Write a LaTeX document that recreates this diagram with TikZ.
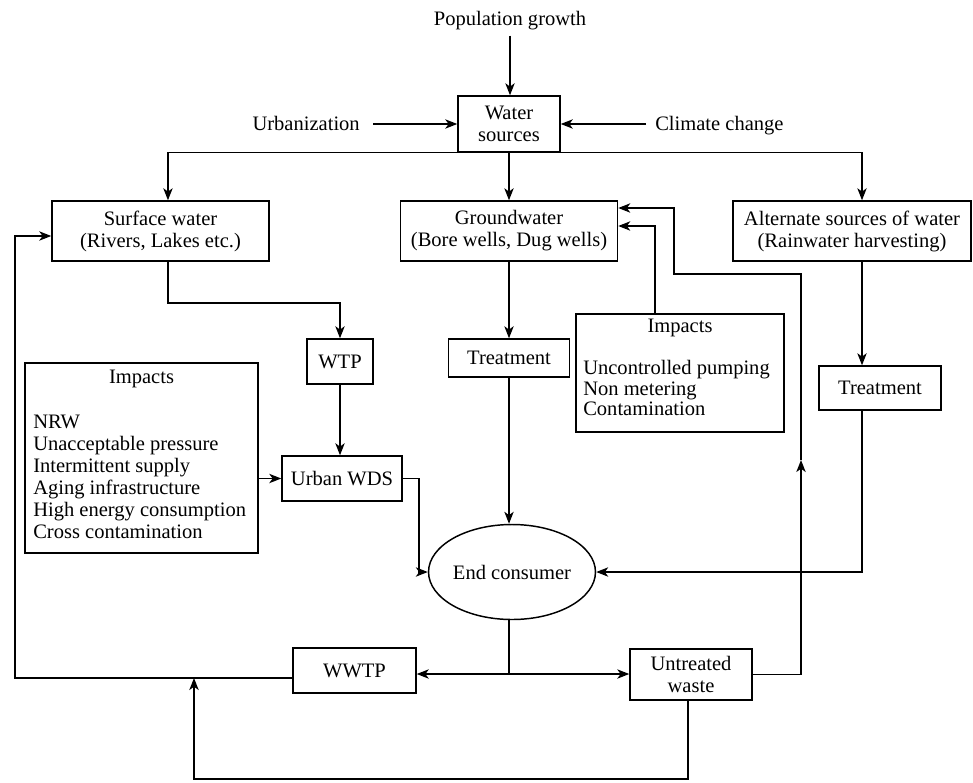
\documentclass[tikz,border=0pt]{standalone}
\usepackage{fontspec}
\setmainfont{Liberation Serif}
\usetikzlibrary{arrows.meta,shapes.geometric}
\begin{document}
\begin{tikzpicture}[x=0.75pt,y=-0.75pt,
  every node/.style={font=\fontsize{15.4}{16.5}\selectfont},
  box/.style={draw,line width=1.1pt,inner sep=0pt,align=center},
  lbl/.style={inner sep=0pt},
  ln/.style={line width=1.1pt},
  arr/.style={line width=1.1pt,-{Stealth[length=9pt,width=7pt,inset=2.5pt]}},
]
\useasboundingbox (0,0) rectangle (973,782);

% drivers acting on the water sources
\node[lbl,anchor=base] (pop) at (510,25) {Population growth};
\node[lbl,anchor=base east] (urb) at (360,130) {Urbanization};
\node[lbl,anchor=base west] (clim) at (655,130) {Climate change};
\node[box,minimum width=76.5pt,minimum height=42pt] (ws) at (509,124) {Water\\sources};

% source boxes
\node[box,minimum width=162.75pt,minimum height=45pt] (sw) at (160.5,231) {Surface water\\(Rivers, Lakes etc.)};
\node[box,minimum width=162.75pt,minimum height=45pt] (gw) at (509,231) {Groundwater\\(Bore wells, Dug wells)};
\node[box,minimum width=178.5pt,minimum height=45pt] (alt) at (852,231) {Alternate sources of water\\(Rainwater harvesting)};

% treatment and distribution
\node[box,minimum width=49.5pt,minimum height=33.75pt] (wtp) at (340,361.5) {WTP};
\node[box,minimum width=90.75pt,minimum height=28.5pt] (treat1) at (509,358) {Treatment};
\node[box,minimum width=91.5pt,minimum height=33pt] (treat2) at (880,388) {Treatment};
\node[box,minimum width=90pt,minimum height=33.75pt] (uwds) at (342,478.5) {Urban WDS};
\node[draw,line width=1.1pt,ellipse,inner sep=0pt,minimum width=114pt,minimum height=71.25pt] (ec) at (512,572) {End consumer};
\node[box,minimum width=92.25pt,minimum height=33.75pt] (wwtp) at (354.5,670.5) {WWTP};
\node[box,minimum width=91.5pt,minimum height=38.25pt] (uw) at (691,674.5) {Untreated\\waste};

% impact lists
\node[box,minimum width=174.75pt,minimum height=142.5pt] (imp1) at (141.5,458) {};
\node[lbl,anchor=base] (imp1t) at (141.5,383) {Impacts};
\node[lbl,anchor=north west,align=left] (imp1l) at (33,414.5) {NRW\\Unacceptable pressure\\Intermittent supply\\Aging infrastructure\\High energy consumption\\Cross contamination};
\node[box,minimum width=156pt,minimum height=88.5pt] (imp2) at (680,373) {};
\node[lbl,anchor=base] (imp2t) at (680,332) {Impacts};
\node[lbl,anchor=north west,align=left,font=\fontsize{15.4}{15.4}\selectfont] (imp2l) at (583,360) {Uncontrolled pumping\\Non metering\\Contamination};

% routing points
\coordinate (cW) at (340,303);
\coordinate (cE) at (419,572);
\coordinate (cS) at (509,674);
\coordinate (cR) at (801,460);
\coordinate (cT) at (674,274);
\coordinate (cL) at (15,678);
\coordinate (cB) at (688,779);
\coordinate (cU) at (194,678);

% drivers
\draw[arr,shorten <=4.5pt] (pop.south) -- (pop.south |- ws.north);
\draw[arr,shorten <=9.75pt] (urb.east |- ws.west) -- (ws.west);
\draw[arr,shorten <=6.75pt] (clim.west |- ws.east) -- (ws.east);

% split to the three sources
\draw[arr] (ws.south) -| ([xshift=5.6pt]sw.north);
\draw[arr] (ws.south) -- (gw.north);
\draw[arr] (ws.south) -| ([xshift=7.5pt]alt.north);

% surface water path
\draw[arr] ([xshift=5.6pt]sw.south) |- (cW) -- (wtp.north);
\draw[arr] (wtp.south) -- (wtp.south |- uwds.north);
\draw[arr] (imp1.east |- uwds.west) -- (uwds.west);
\draw[arr] (uwds.east) -| (cE) -- (ec.west);

% groundwater path
\draw[arr] (gw.south) -- (treat1.north);
\draw[arr] (treat1.south) -- (treat1.south |- ec.north);
\draw[arr] ([xshift=-18.75pt]imp2.north) |- ([yshift=3.75pt]gw.east);

% alternate sources path
\draw[arr] ([xshift=7.5pt]alt.south) -- ([xshift=7.5pt]alt.south |- treat2.north);
\draw[arr] ([xshift=-13.5pt]treat2.south) |- (ec.east);

% waste from the consumer
\draw[ln] (cS |- ec.south) -- (cS);
\draw[arr] (cS) -- (wwtp.east |- cS);
\draw[arr] (cS) -- (uw.west |- cS);

% return flows
\draw[arr] ([yshift=-5.625pt]wwtp.west) -- (cL) |- ([yshift=-3.75pt]sw.west);
\draw[arr] (uw.south -| cB) -- (cB) -| (cU);
\draw[arr] (uw.east) -| (cR);
\draw[arr] (cR) |- (cT) |- ([yshift=17.25pt]gw.east);
\end{tikzpicture}
\end{document}
